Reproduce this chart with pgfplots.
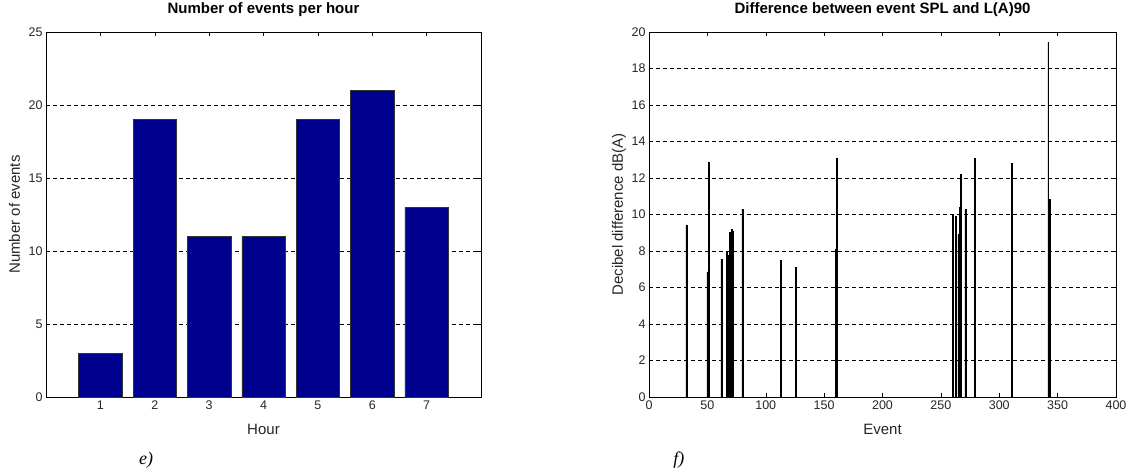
\documentclass[border=0pt]{standalone}
\usepackage{fontspec}
\setmainfont{Liberation Sans}
\newfontfamily\capfont{Liberation Serif}
\usepackage{pgfplots}
\pgfplotsset{compat=1.18}
\definecolor{barblue}{HTML}{00008F}
\pgfplotsset{
  matlab/.style={
    scale only axis, clip=false,
    tick align=inside, major tick length=4pt,
    axis line style={black, line width=0.6pt},
    tick style={black, line width=0.5pt},
    ymajorgrids, grid style={black, line width=0.5pt, dash pattern=on 4pt off 3pt},
    ticklabel style={font=\fontsize{12.5}{14}\selectfont, text=black!85},
    /pgf/number format/assume math mode=true,
    title style={at={(0.5,1)}, anchor=base, yshift=13pt,
      font=\bfseries\fontsize{15}{17}\selectfont},
    xlabel style={font=\fontsize{15}{17}\selectfont, text=black!85},
    ylabel style={font=\fontsize{15}{17}\selectfont, text=black!85},
  },
}
\begin{document}
\begin{tikzpicture}
\path[use as bounding box] (0,0) rectangle (1132pt,475pt);
% e) events per hour
\begin{axis}[matlab,
  at={(46pt,78pt)}, anchor=south west, width=435pt, height=365pt,
  xmin=0, xmax=8, ymin=0, ymax=25,
  xtick={1,...,7}, ytick={0,5,...,25},
  title={Number of events per hour},
  xlabel={Hour}, ylabel={Number of events},
  xlabel style={at={(0.5,0)}, anchor=base, yshift=-37pt},
  ylabel style={at={(axis description cs:-0.06,0.5)}, anchor=base},
]
  \addplot[ybar, bar width=0.8, fill=barblue, draw=black!80, line width=0.5pt]
    coordinates {(1,3) (2,19) (3,11) (4,11) (5,19) (6,21) (7,13)};
  \node[font=\capfont\itshape\fontsize{18}{20}\selectfont] at (rel axis cs:0.23,0) [yshift=-63pt] {e)};
\end{axis}
% f) difference between event SPL and L(A)90
\begin{axis}[matlab,
  at={(649pt,78pt)}, anchor=south west, width=467pt, height=365pt,
  xmin=0, xmax=400, ymin=0, ymax=20,
  xtick={0,50,...,400}, ytick={0,2,...,20},
  title={Difference between event SPL and L(A)90},
  xlabel={Event}, ylabel={Decibel difference dB(A)},
  xlabel style={at={(0.5,0)}, anchor=base, yshift=-37pt},
  ylabel style={at={(axis description cs:-0.056,0.5)}, anchor=base},
]
  \addplot[ybar, bar width=0.8, fill=black, draw=black, line width=0.6pt]
    coordinates {
      (32,9.41) (50,6.85) (51,12.88) (62,7.56)
      (67,8.00) (68,7.76) (69,9.00) (70,9.00) (71,9.19) (72,9.10)
      (80,10.30) (113,7.49) (126,7.09) (160,8.07) (161,13.10)
      (260,9.99) (263,9.90) (265,8.90) (266,10.37) (267,12.20) (271,10.30)
      (279,13.06) (311,12.82) (342,19.45) (343,10.83)
    };
  \node[font=\capfont\itshape\fontsize{18}{20}\selectfont] at (rel axis cs:0.064,0) [yshift=-63pt] {f)};
\end{axis}
\end{tikzpicture}
\end{document}
